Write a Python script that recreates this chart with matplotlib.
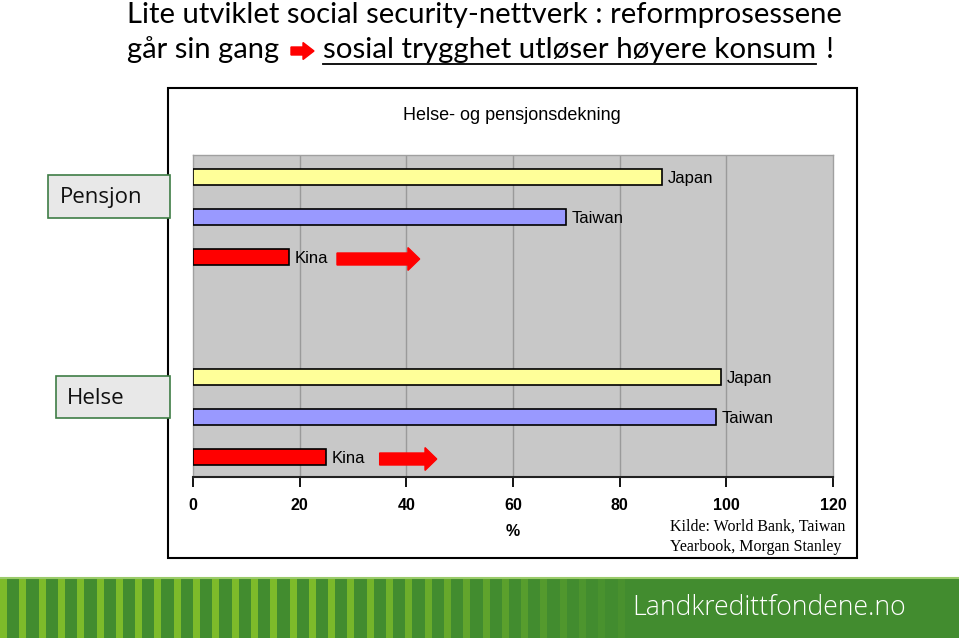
import matplotlib
matplotlib.use("Agg")
import matplotlib.pyplot as plt
from matplotlib.patches import Rectangle, FancyArrow

# data (coverage in %)
countries = ["Japan", "Taiwan", "Kina"]
pensjon = [88, 70, 18]
helse = [99, 98, 25]
colors = ["#ffff99", "#9999ff", "#ff0000"]
pensjon_pos = [7.5, 6.5, 5.5]
helse_pos = [2.5, 1.5, 0.5]
# red "growth" arrows for China (start, end)
kina_arrow_p = (27, 42.5)
kina_arrow_h = (35, 45.7)
xticks = [0, 20, 40, 60, 80, 100, 120]

W, H = 959, 638
fig = plt.figure(figsize=(W / 100, H / 100), dpi=100)
fig.patch.set_facecolor("white")
renderer = fig.canvas.get_renderer()


def fx(px):
    return px / W


def fy(py):
    return 1 - py / H


def fit(t, width_px):
    w = t.get_window_extent(renderer).width
    t.set_fontsize(t.get_fontsize() * width_px / w)
    return t


head_font = ["Lato", "DejaVu Sans"]

# header
fit(fig.text(fx(127), fy(15), "Lite utviklet social security-nettverk : reformprosessene",
             fontsize=20, family=head_font, va="center", ha="left"), 718)
fit(fig.text(fx(127), fy(50), "går sin gang", fontsize=20, family=head_font,
             va="center", ha="left"), 152)
fig.patches.append(FancyArrow(fx(291), fy(51), fx(23), 0, width=8 / H, head_width=17 / H,
                              head_length=fx(11), length_includes_head=True,
                              color="#ff0000", transform=fig.transFigure, figure=fig))
t2 = fit(fig.text(fx(323), fy(50), "sosial trygghet utløser høyere konsum", fontsize=20,
                  family=head_font, va="center", ha="left"), 493)
fig.text(fx(826), fy(50), "!", fontsize=t2.get_fontsize(), family=head_font,
         va="center", ha="left")
bb = t2.get_window_extent(renderer).transformed(fig.transFigure.inverted())
fig.add_artist(plt.Line2D([bb.x0, bb.x1], [fy(64), fy(64)], color="black", lw=1.3,
                          transform=fig.transFigure))

# chart frame
fig.patches.append(Rectangle((fx(168), fy(558)), fx(857 - 168), (558 - 88) / H,
                             facecolor="white", edgecolor="black", lw=1.5,
                             transform=fig.transFigure, figure=fig, zorder=0))
fig.text(fx(512), fy(115), "Helse- og pensjonsdekning", fontsize=13,
         family="Liberation Sans", ha="center", va="center")

# side boxes
for label, x0, y0, y1, tx in [("Pensjon", 48, 175, 218, 60), ("Helse", 56, 376, 418, 67)]:
    fig.patches.append(Rectangle((fx(x0), fy(y1)), fx(170 - x0), (y1 - y0) / H,
                                 facecolor="#e8e8e8", edgecolor="#3e7d45", lw=1.2,
                                 transform=fig.transFigure, figure=fig, zorder=2))
    fig.text(fx(tx), fy((y0 + y1) / 2 + 1), label, fontsize=16,
             family=["Open Sans", "DejaVu Sans"],
             ha="left", va="center", color="#111111", zorder=3)

ax = fig.add_axes([fx(193), fy(477), fx(833 - 193), (477 - 155) / H])
ax.set_zorder(1)
ax.set_facecolor("#c8c8c8")
ax.set_xlim(0, 120)
ax.set_ylim(0, 8.05)
ax.set_xticks(xticks)
ax.set_xticklabels([str(v) for v in xticks], fontsize=11.5, fontweight="bold",
                   family="Liberation Sans")
ax.set_yticks([])
ax.tick_params(axis="x", length=7, width=1.3, direction="out", pad=8, colors="black")
for v in xticks[1:-1]:
    ax.axvline(v, color="#9a9a9a", lw=1, zorder=1)
for s in ["top", "right", "left"]:
    ax.spines[s].set_color("#a0a0a0")
    ax.spines[s].set_linewidth(1)
ax.spines["bottom"].set_color("#222222")
ax.spines["bottom"].set_linewidth(1.5)

for vals, pos in [(pensjon, pensjon_pos), (helse, helse_pos)]:
    ax.barh(pos, vals, height=0.4, color=colors, edgecolor="black", lw=1.2, zorder=3)
    for name, v, p in zip(countries, vals, pos):
        ax.annotate(name, (v, p), xytext=(4, -1), textcoords="offset points",
                    ha="left", va="center", fontsize=12, family="Liberation Sans",
                    zorder=4)

for (a0, a1), p in [(kina_arrow_p, pensjon_pos[2]), (kina_arrow_h, helse_pos[2])]:
    ax.add_patch(FancyArrow(a0, p - 0.05, a1 - a0, 0, width=0.3, head_width=0.57,
                            head_length=2.2, length_includes_head=True,
                            color="#ff0000", zorder=4))

fig.text(fx(513), fy(531), "%", fontsize=11.5, fontweight="bold", family="Liberation Sans",
         ha="center", va="center")
fig.text(fx(670), fy(527), "Kilde: World Bank, Taiwan", fontsize=11.5,
         family="Liberation Serif", ha="left", va="center")
fig.text(fx(670), fy(547), "Yearbook, Morgan Stanley", fontsize=11.5,
         family="Liberation Serif", ha="left", va="center")

# footer band
fig.patches.append(Rectangle((0, 0), 1, 60 / H, facecolor="#428c2f", edgecolor="none",
                             transform=fig.transFigure, figure=fig, zorder=1))
fig.add_artist(plt.Line2D([0, 1], [60 / H, 60 / H], color="#9acb6a", lw=1.5,
                          transform=fig.transFigure))
i = 0
while i * 19.3 < 625:
    x = i * 19.3
    a = 1.0 if x < 320 else max(0.12, 1 - (x - 320) / 320)
    fig.patches.append(Rectangle((fx(x), 0), fx(7), 59 / H, facecolor="#7dbb2a",
                                 edgecolor="none", alpha=a, transform=fig.transFigure,
                                 figure=fig, zorder=1))
    i += 1
fit(fig.text(fx(632), fy(608), "Landkredittfondene.no", fontsize=22, color="white",
             family=["Open Sans", "DejaVu Sans"], fontweight="light", ha="left", va="center",
             zorder=3), 273)

fig.savefig("out.png", dpi=100)
